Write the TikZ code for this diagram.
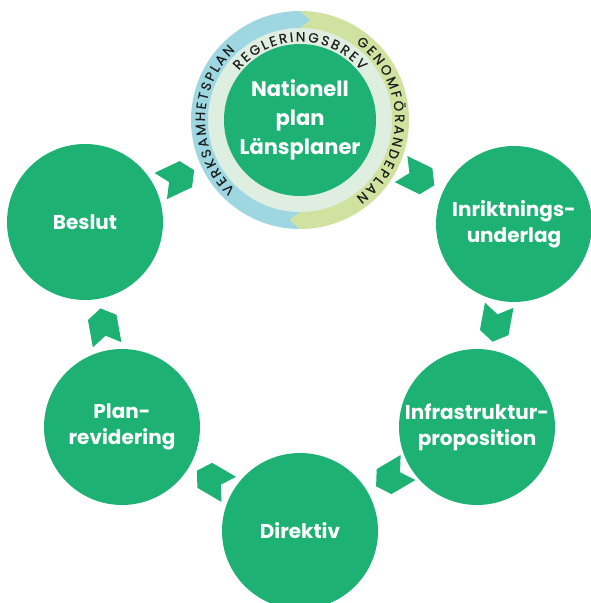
\documentclass[tikz,border=0pt]{standalone}
\usepackage{fontspec}
\setmainfont{Poppins}
\newfontfamily\ringfamily{Poppins}[FakeBold=0.3]
\usetikzlibrary{shapes.symbols}
\usetikzlibrary{decorations.text}
\definecolor{nodegreen}{RGB}{29,178,116}
\definecolor{palering}{RGB}{222,238,224}
\definecolor{ringblue}{RGB}{158,215,226}
\definecolor{ringlime}{RGB}{207,226,160}
\definecolor{ringink}{RGB}{30,30,30}
\newcommand{\ringfont}{\ringfamily\fontsize{13.5}{13.5}\selectfont\color{ringink}}

\begin{document}
\begin{tikzpicture}[
  x=1pt, y=1pt,
  stage/.style={circle, fill=nodegreen, minimum size=156pt, inner sep=0pt, text=white, align=center, font=\fontsize{20}{26}\selectfont\bfseries},
  chev/.style={signal, signal to=east, signal from=west, signal pointer angle=115, fill=nodegreen, minimum width=37pt, minimum height=29pt, inner sep=0pt, sloped, allow upside down},
  ringtext/.style={decorate, decoration={text along path, text align=fit to path, text={|\ringfont|#1}}}
]
\useasboundingbox (0,0) rectangle (590,603);

% the hub with its two rings
\coordinate (hub) at (300,483);
\fill[palering] (hub) circle[radius=92];
\begin{scope}[shift={(hub)}]
  \fill[ringblue] (90:109) arc[start angle=90, end angle=270, radius=109] -- (264:100.5) -- (270:92)
    arc[start angle=270, end angle=90, radius=92] -- (84:100.5) -- cycle;
  \fill[ringlime] (90:109) arc[start angle=90, end angle=-90, radius=109] -- (-96:100.5) -- (-90:92)
    arc[start angle=-90, end angle=90, radius=92] -- (84:100.5) -- cycle;
  \path[ringtext=VERKSAMHETSPLAN] (227:95) arc[start angle=227, end angle=133, radius=95];
  \path[ringtext=GENOMFÖRANDEPLAN] (54:95) arc[start angle=54, end angle=-54, radius=95];
  \path[ringtext=REGLERINGSBREV] (141:78.5) arc[start angle=141, end angle=39, radius=78.5];
\end{scope}
\node[stage, minimum size=152pt, font=\fontsize{21}{29}\selectfont\bfseries] (nat) at (hub) {Nationell\\plan\\Länsplaner};

% the cycle
\node[stage] (inrikt) at (514,379) {Inriktnings-\\underlag};
\node[stage] (infra) at (477,176) {Infrastruktur-\\proposition};
\node[stage] (direktiv) at (300,72) {Direktiv};
\node[stage] (planrev) at (122,176) {Plan-\\revidering};
\node[stage] (beslut) at (85,381) {Beslut};

\path (nat.center) -- node[chev, pos=0.55]{} (inrikt.center);
\path (inrikt.center) -- node[chev, pos=0.49]{} (infra.center);
\path (infra.center) -- node[chev, pos=0.48]{} (direktiv.center);
\path (direktiv.center) -- node[chev, pos=0.49]{} (planrev.center);
\path (planrev.center) -- node[chev, pos=0.49]{} (beslut.center);
\path (beslut.center) -- node[chev, pos=0.43]{} (nat.center);
\end{tikzpicture}
\end{document}
